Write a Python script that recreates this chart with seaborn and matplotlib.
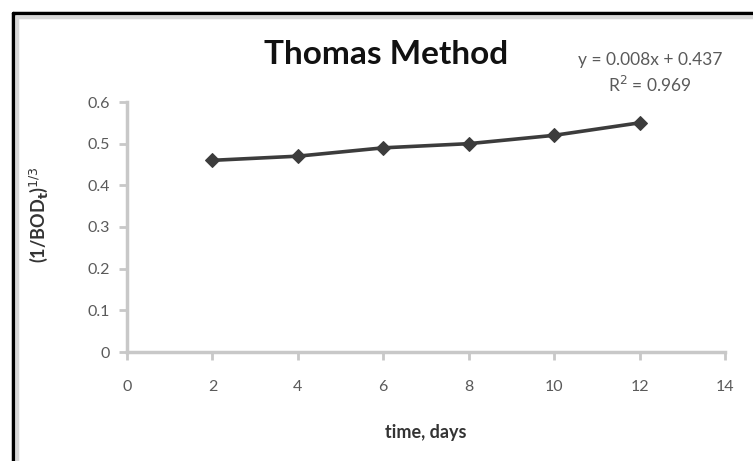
import numpy as np
import pandas as pd
import matplotlib
matplotlib.use("Agg")
import matplotlib.pyplot as plt
import seaborn as sns
from matplotlib.lines import Line2D

# data
time_days = [2, 4, 6, 8, 10, 12]
bod_term = [0.46, 0.47, 0.49, 0.50, 0.52, 0.55]
x_ticks = [0, 2, 4, 6, 8, 10, 12, 14]
y_ticks = [0, 0.1, 0.2, 0.3, 0.4, 0.5, 0.6]
y_tick_labels = ["0", "0.1", "0.2", "0.3", "0.4", "0.5", "0.6"]

df = pd.DataFrame({"time": time_days, "bod": bod_term})

sns.set_style("white")
plt.rcParams['font.family'] = ['Lato', 'DejaVu Sans']

fig = plt.figure(figsize=(7.53, 4.61), dpi=100)
ax = fig.add_axes([127 / 753, 1 - 352 / 461, (725 - 127) / 753, (352 - 102) / 461])

sns.lineplot(data=df, x="time", y="bod", ax=ax, color="#3c3c3c", linewidth=2.6,
             marker="D", markersize=7, markeredgecolor="#3c3c3c")

ax.set_xlim(0, 14)
ax.set_ylim(0, 0.6)
ax.set_xticks(x_ticks)
ax.set_yticks(y_ticks)
ax.set_yticklabels(y_tick_labels)

for s in ["top", "right"]:
    ax.spines[s].set_visible(False)
for s in ["left", "bottom"]:
    ax.spines[s].set_color("#c8c8c8")
    ax.spines[s].set_linewidth(2.5)

ax.tick_params(axis="both", direction="out", length=6, width=2, color="#c8c8c8",
               labelsize=11.5, labelcolor="#5a5a5a", bottom=True, left=True)
ax.tick_params(axis="x", pad=14)
ax.tick_params(axis="y", pad=6)

ax.set_xlabel("time, days", fontsize=13, fontweight="bold", color="#333333")
ax.xaxis.set_label_coords(0.5, -(424 - 352) / 250)
ax.set_ylabel(r"(1/BOD$_\mathbf{t}$)$^{1/3}$", fontsize=13, fontweight="bold", color="#333333")
ax.yaxis.set_label_coords(-(127 - 50) / 598, 0.55)

fig.text(386 / 753, 1 - 54 / 461, "Thomas Method", fontsize=24, fontweight="bold",
         ha="center", va="center", color="#111111")
fig.text(650 / 753, 1 - 60 / 461, "y = 0.008x + 0.437", fontsize=12.5,
         ha="center", va="center", color="#5a5a5a")
fig.text(650 / 753, 1 - 85 / 461, r"R$^2$ = 0.969", fontsize=12.5,
         ha="center", va="center", color="#5a5a5a")

# chart frame: black outer edge, light inner edge
fig.add_artist(Line2D([13 / 753, 13 / 753], [0, 1 - 13 / 461], color="black", linewidth=2.5,
                      transform=fig.transFigure))
fig.add_artist(Line2D([13 / 753, 1], [1 - 13 / 461, 1 - 13 / 461], color="black", linewidth=2.5,
                      transform=fig.transFigure))
fig.add_artist(Line2D([17 / 753, 17 / 753], [0, 1 - 17 / 461], color="#d8d8d8", linewidth=2.5,
                      transform=fig.transFigure))
fig.add_artist(Line2D([17 / 753, 1], [1 - 17 / 461, 1 - 17 / 461], color="#d8d8d8", linewidth=2.5,
                      transform=fig.transFigure))

fig.savefig("out.png", dpi=100)
